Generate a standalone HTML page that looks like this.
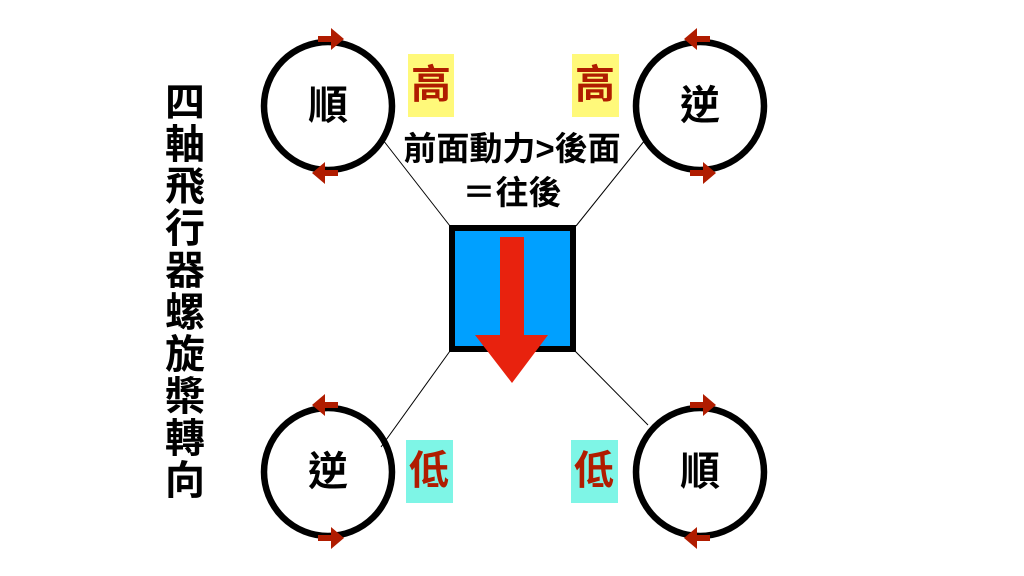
<!DOCTYPE html>
<html><head><meta charset="utf-8"><style>
body{margin:0;background:#fff;width:1024px;height:576px;overflow:hidden;position:relative;font-family:"Liberation Sans","Noto Sans CJK TC",sans-serif}
.t{position:absolute;font-weight:bold;text-align:center}
.v{position:absolute;left:163px;top:78px;width:44px;font-size:40px;line-height:42px;font-weight:bold;text-align:center;font-family:"Noto Sans CJK TC",sans-serif}
</style></head><body>
<svg width="1024" height="576" style="position:absolute;left:0;top:0">
<g stroke="#000" stroke-width="1">
<line x1="383" y1="140" x2="450" y2="226"/>
<line x1="576" y1="226" x2="645" y2="140"/>
<line x1="450" y1="351" x2="381" y2="447"/>
<line x1="575" y1="351" x2="648" y2="425"/>
</g>
<g fill="none" stroke="#000" stroke-width="6.5">
<circle cx="328" cy="106" r="64"/>
<circle cx="700" cy="106" r="64"/>
<circle cx="328" cy="472" r="64"/>
<circle cx="700" cy="472" r="64"/>
</g>
<rect x="452" y="228" width="121" height="121" fill="#00a0ff" stroke="#000" stroke-width="6"/>
<polygon points="500,237 524,237 524,335 548,335 512,383 475,335 500,335" fill="#e8220e"/>
<g fill="#b01c00" stroke="none">
<path d="M318,36 h13 v-8 l13,11 l-13,11 v-8 h-13 z"/>
<path d="M690,170 h13 v-8 l13,11 l-13,11 v-8 h-13 z"/>
<path d="M318,535 h13 v-8 l13,11 l-13,11 v-8 h-13 z"/>
<path d="M690,402 h13 v-8 l13,11 l-13,11 v-8 h-13 z"/>
<path d="M338,170 h-13 v-8 l-13,11 l13,11 v-8 h13 z"/>
<path d="M710,36 h-13 v-8 l-13,11 l13,11 v-8 h13 z"/>
<path d="M338,402 h-13 v-8 l-13,11 l13,11 v-8 h13 z"/>
<path d="M710,535 h-13 v-8 l-13,11 l13,11 v-8 h13 z"/>
</g>
<g stroke="none">
<rect x="408" y="54" width="46" height="63" fill="#fff97a"/>
<rect x="572" y="54" width="47" height="63" fill="#fff97a"/>
<rect x="406" y="440" width="47" height="63" fill="#7ef5e6"/>
<rect x="571" y="440" width="47" height="63" fill="#7ef5e6"/>
</g>
</svg>
<div class="t" style="left:288px;top:83px;width:80px;font-size:40px;line-height:46px">順</div>
<div class="t" style="left:660px;top:83px;width:80px;font-size:40px;line-height:46px">逆</div>
<div class="t" style="left:288px;top:449px;width:80px;font-size:40px;line-height:46px">逆</div>
<div class="t" style="left:660px;top:449px;width:80px;font-size:40px;line-height:46px">順</div>
<div class="t" style="left:406px;top:62px;width:50px;font-size:40px;line-height:46px;color:#b01c00">高</div>
<div class="t" style="left:570px;top:62px;width:50px;font-size:40px;line-height:46px;color:#b01c00">高</div>
<div class="t" style="left:404px;top:448px;width:50px;font-size:40px;line-height:46px;color:#b01c00">低</div>
<div class="t" style="left:569px;top:448px;width:50px;font-size:40px;line-height:46px;color:#b01c00">低</div>
<div class="t" style="left:362px;top:128px;width:300px;font-size:33px;line-height:42px">前面動力&gt;後面</div>
<div class="t" style="left:362px;top:172px;width:300px;font-size:33px;line-height:42px">＝往後</div>
<div class="v">四<br>軸<br>飛<br>行<br>器<br>螺<br>旋<br>槳<br>轉<br>向</div>
</body></html>
